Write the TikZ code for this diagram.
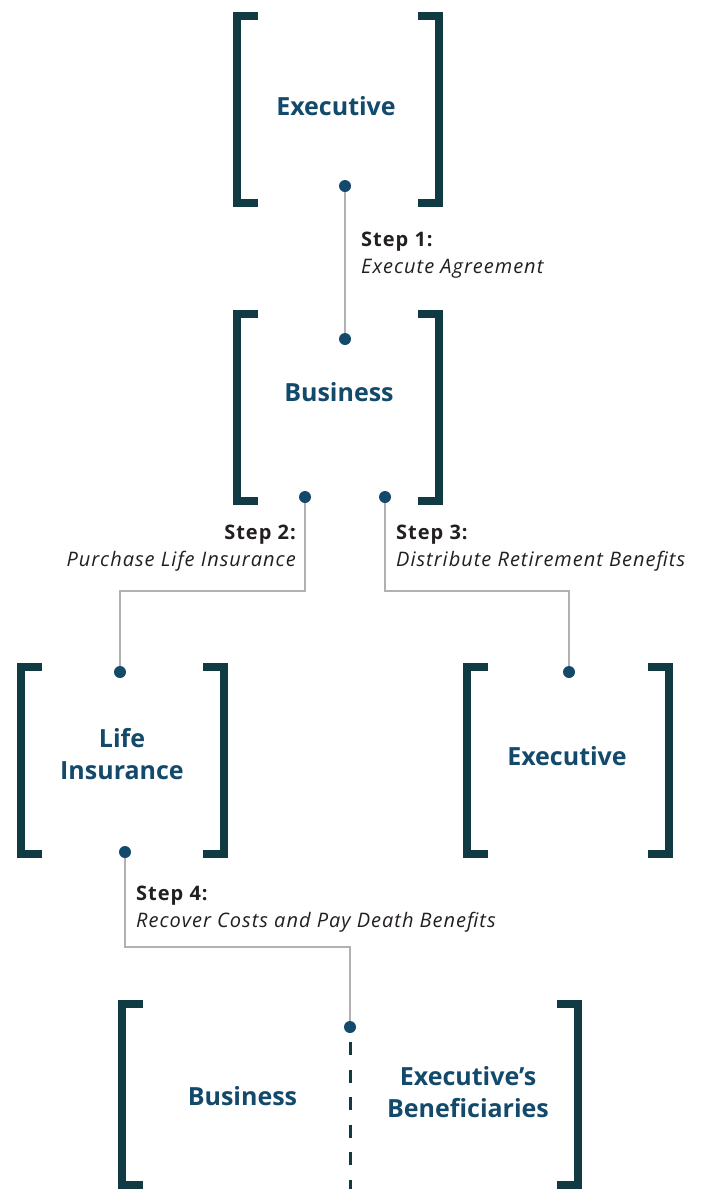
\documentclass[tikz,border=0pt]{standalone}
\usepackage{fontspec}
\usetikzlibrary{fit}
\newfontfamily\opensans{Open Sans}
\newfontfamily\opensansLS{Open Sans}[LetterSpace=5]
\IfFontExistsTF{Open Sans SemiBold}{%
  \newfontfamily\headsb{Open Sans SemiBold}%
  \newfontfamily\stepsb{Open Sans SemiBold}[LetterSpace=5]%
}{%
  \newcommand\headsb{\opensans\bfseries}%
  \newcommand\stepsb{\opensansLS\bfseries}%
}
\definecolor{brkcol}{HTML}{103B42}
\definecolor{headcol}{HTML}{134A6C}
\definecolor{dotcol}{HTML}{134A6C}
\definecolor{conncol}{HTML}{B1B1B5}
\definecolor{stepcol}{HTML}{231F20}
\newcommand\brackets[1]{%
  \draw[brk] ([xshift=25pt,yshift=-4pt]#1.north west) -- ([xshift=4pt,yshift=-4pt]#1.north west)
    -- ([xshift=4pt,yshift=4pt]#1.south west) -- ([xshift=25pt,yshift=4pt]#1.south west);
  \draw[brk] ([xshift=-25pt,yshift=-4pt]#1.north east) -- ([xshift=-4pt,yshift=-4pt]#1.north east)
    -- ([xshift=-4pt,yshift=4pt]#1.south east) -- ([xshift=-25pt,yshift=4pt]#1.south east);
}
\newcommand\stepfont{\stepsb\fontsize{20}{27}\selectfont}
\begin{document}
\begin{tikzpicture}[x=1pt,y=-1pt,
  brk/.style={draw=brkcol, line width=8pt, line join=miter},
  conn/.style={draw=conncol, line width=2.6pt},
  dashconn/.style={draw=brkcol, line width=3pt, dash pattern=on 13pt off 14.5pt, dash phase=12.5pt},
  dot/.style={circle, fill=dotcol, inner sep=0pt, minimum size=12pt},
  area/.style={inner sep=0pt},
  head/.style={text=headcol, font=\headsb\fontsize{25}{32}\selectfont, align=center, inner sep=0pt},
  steplbl/.style={text=stepcol, font=\opensansLS\fontsize{20}{27}\selectfont, inner sep=0pt},
]
\useasboundingbox[fill=white] (0,0) rectangle (704,1189);

% bracket boxes
\node[area, fit={(233,12) (443,207)}] (bx1) {};
\node[area, fit={(233,310) (443,505)}] (bx2) {};
\node[area, fit={(17,663) (228,858)}] (bx3) {};
\node[area, fit={(463,663) (673,858)}] (bx4) {};
\node[area, fit={(118,1000) (582,1189)}] (bx5) {};
\brackets{bx1}
\brackets{bx2}
\brackets{bx3}
\brackets{bx4}
\brackets{bx5}

% headings (multi-line: base = last line)
\node[head, anchor=base] (t1) at (336,115) {Executive};
\node[head, anchor=base] (t2) at (339,401) {Business};
\node[head, anchor=base] (t3) at (122,779) {Life\\Insurance};
\node[head, anchor=base] (t4) at (567,765) {Executive};
\node[head, anchor=base] (t5) at (242.5,1105) {Business};
\node[head, anchor=base] (t6) at (468,1117) {Executive’s\\Beneficiaries};

% connector points
\coordinate (p1a) at (345,186);
\coordinate (p1b) at (345,339);
\coordinate (p2a) at (305,497);
\coordinate (p2b) at (120,672);
\coordinate (p3a) at (385,497);
\coordinate (p3b) at (569,672);
\coordinate (p4a) at (125,852);
\coordinate (p4b) at (350,1027);
\coordinate (j23) at (0,591);
\coordinate (j4) at (0,947);
\coordinate (dashend) at (350,1189);

\draw[conn] (p1a) -- (p1b);
\draw[conn] (p2a) -- (p2a |- j23) -- (p2b |- j23) -- (p2b);
\draw[conn] (p3a) -- (p3a |- j23) -- (p3b |- j23) -- (p3b);
\draw[conn] (p4a) -- (p4a |- j4) -- (p4b |- j4) -- (p4b);
\draw[dashconn] (p4b) -- (dashend);

\node[dot] (d1a) at (p1a) {};
\node[dot] (d1b) at (p1b) {};
\node[dot] (d2a) at (p2a) {};
\node[dot] (d2b) at (p2b) {};
\node[dot] (d3a) at (p3a) {};
\node[dot] (d3b) at (p3b) {};
\node[dot] (d4a) at (p4a) {};
\node[dot] (d4b) at (p4b) {};

% step labels (base = last line)
\node[steplbl, anchor=base west, align=left] (s1) at (361,273) {{\stepfont Step 1:}\\\itshape Execute Agreement};
\node[steplbl, anchor=base east, align=right] (s2) at (296,566) {{\stepfont Step 2:}\\\itshape Purchase Life Insurance};
\node[steplbl, anchor=base west, align=left] (s3) at (396,566) {{\stepfont Step 3:}\\\itshape Distribute Retirement Benefits};
\node[steplbl, anchor=base west, align=left] (s4) at (136,927) {{\stepfont Step 4:}\\\itshape Recover Costs and Pay Death Benefits};
\end{tikzpicture}
\end{document}
